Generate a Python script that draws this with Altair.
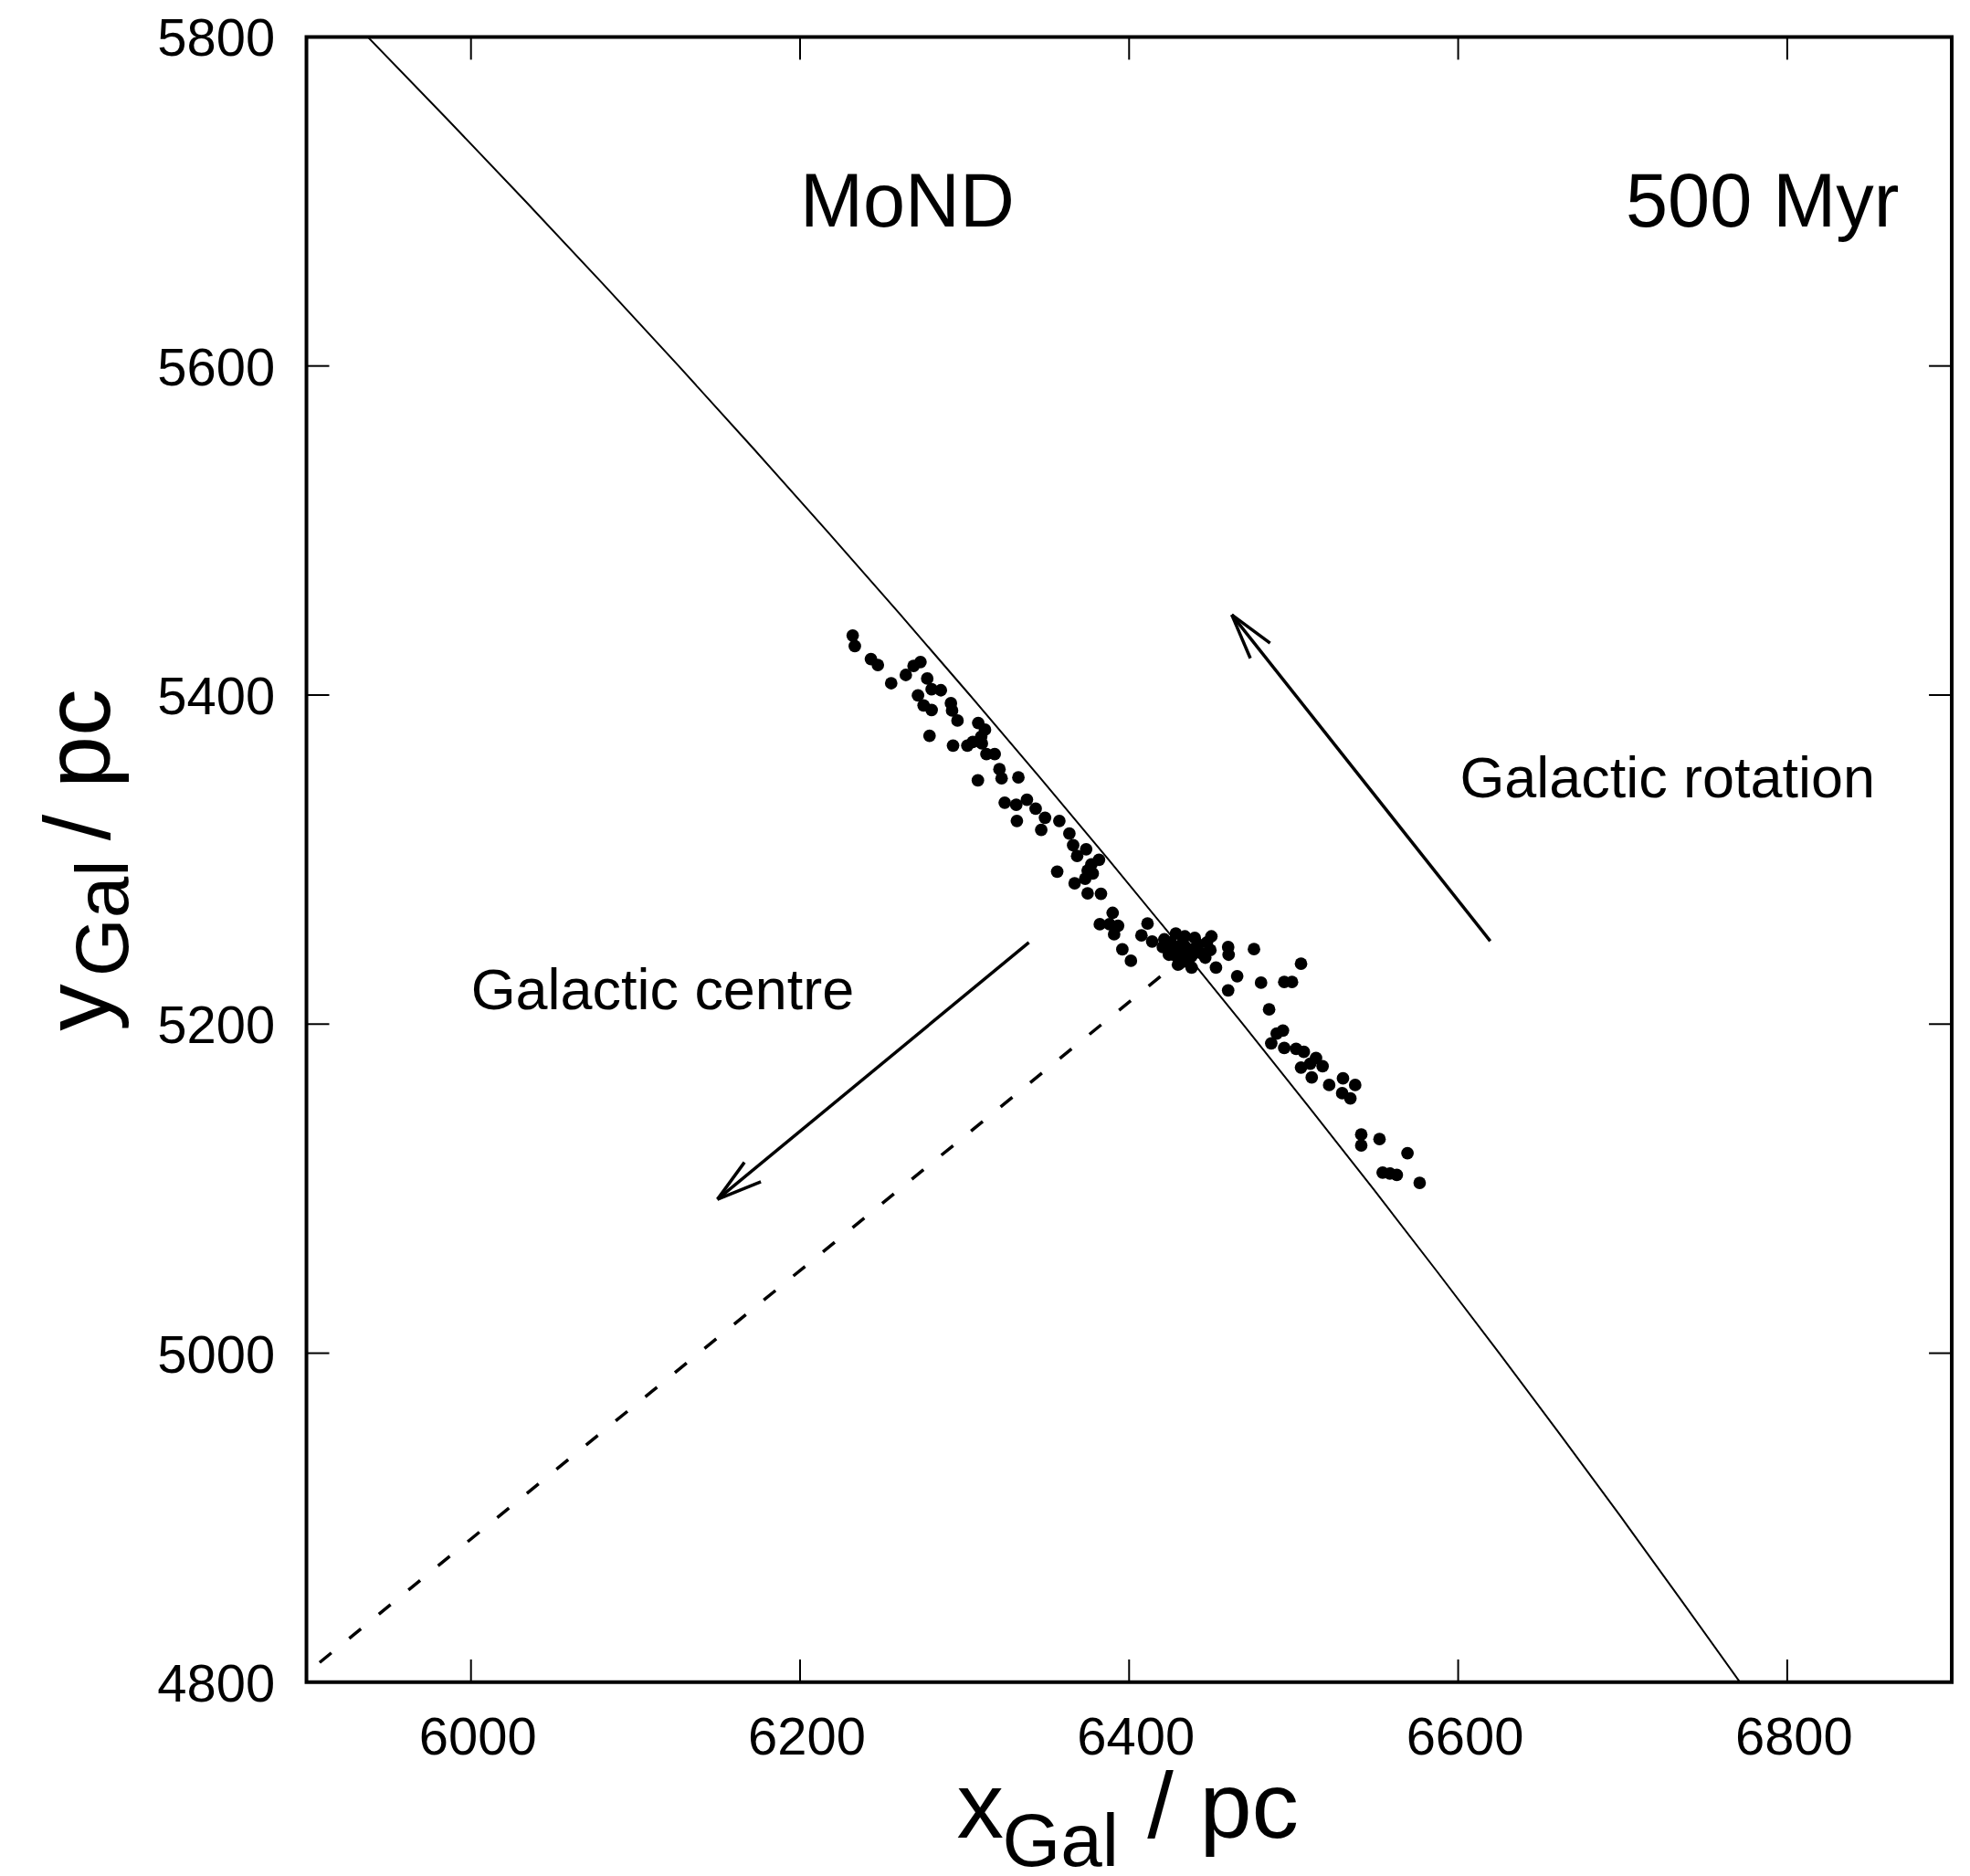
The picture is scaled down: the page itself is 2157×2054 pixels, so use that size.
import altair as alt
import pandas as pd

FONT = "Liberation Sans"
W = 1804
H = 1804

# axis tick values
x_ticks = [6000, 6200, 6400, 6600, 6800]
y_ticks = [4800, 5000, 5200, 5400, 5600, 5800]

# simulated particles
dot_x = [6232.0, 6233.3, 6243.1, 6247.3, 6255.4, 6264.3, 6269.0, 6273.2, 6277.3, 6280.0,
         6285.6, 6271.7, 6275.1, 6280.0, 6291.7, 6292.4, 6295.7, 6278.7, 6293.0, 6301.7,
         6305.0, 6310.5, 6308.3, 6312.4, 6310.1, 6313.3, 6318.3, 6321.2, 6322.5, 6332.7,
         6308.1, 6324.4, 6331.4, 6337.9, 6343.2, 6331.8, 6348.9, 6346.6, 6357.6, 6363.7,
         6366.0, 6373.9, 6368.4, 6381.7, 6377.1, 6374.8, 6377.9, 6373.3, 6356.3, 6366.9,
         6374.8, 6382.9, 6390.0, 6382.2, 6388.1, 6393.3, 6390.9, 6411.2, 6407.5, 6395.9,
         6401.1, 6414.0, 6421.4,
         6428.4, 6433.9, 6439.9, 6450.0, 6449.4, 6446.3, 6452.8, 6438.0, 6429.7, 6424.2,
         6420.5, 6428.8, 6434.3, 6439.9, 6426.9, 6432.5, 6438.0, 6443.6, 6436.1, 6430.6,
         6432.5, 6441.7, 6425.1, 6447.3, 6425.1, 6430.6,
         6460.2, 6460.5, 6475.9, 6504.5, 6465.7, 6460.2, 6480.2, 6494.3, 6499.0, 6485.1,
         6493.5, 6489.7, 6486.4, 6494.3, 6501.5, 6506.2, 6513.6, 6517.6, 6504.5, 6511.0,
         6510.1, 6521.6, 6530.0, 6537.4, 6529.5, 6534.5, 6541.1, 6541.1, 6552.2, 6569.2,
         6554.1, 6558.5, 6562.7, 6576.6]
dot_y = [5436.2, 5429.7, 5421.9, 5418.3, 5407.2, 5412.2, 5417.7, 5420.1, 5410.0, 5403.5,
         5402.9, 5399.8, 5393.7, 5390.9, 5395.0, 5390.6, 5384.5, 5375.2, 5369.3, 5369.3,
         5371.5, 5370.6, 5383.0, 5378.9, 5374.7, 5364.1, 5364.1, 5354.9, 5349.4, 5349.9,
         5348.1, 5334.6, 5333.3, 5336.4, 5330.9, 5323.5, 5325.4, 5318.0, 5323.5, 5315.8,
         5308.7, 5306.3, 5302.2, 5299.9, 5297.1, 5293.4, 5291.5, 5288.4, 5292.7, 5285.6,
         5279.5, 5279.2, 5267.6, 5260.7, 5260.7, 5259.8, 5254.6, 5261.1, 5253.9, 5245.4,
         5238.5, 5250.2, 5251.5,
         5255.1, 5253.3, 5252.4, 5253.3, 5245.0, 5240.4, 5234.3, 5234.3, 5236.1, 5242.2,
         5246.8, 5246.8, 5246.8, 5245.9, 5242.2, 5241.3, 5241.3, 5243.2, 5237.6, 5240.4,
         5249.6, 5248.7, 5246.8, 5249.6, 5249.6, 5236.7,
         5246.8, 5242.2, 5245.6, 5236.7, 5229.1, 5220.5, 5225.2, 5225.6, 5225.6, 5208.9,
         5196.1, 5194.2, 5188.3, 5185.5, 5185.0, 5183.1, 5179.4, 5174.4, 5173.6, 5167.6,
         5176.0, 5163.0, 5167.0, 5163.0, 5158.0, 5154.8, 5132.9, 5126.3, 5130.1, 5121.6,
         5109.8, 5109.2, 5108.3, 5103.5]

# orbit (solid curve) points
orbit_x = [5937.2, 5985.6, 6033.2, 6080.1, 6126.2, 6171.5, 6216.1, 6260.0, 6303.2, 6345.7,
           6387.5, 6428.6, 6469.2, 6509.0, 6548.3, 6586.9, 6625.0, 6662.4, 6699.3, 6735.5,
           6771.3]
orbit_y = [5800, 5750, 5700, 5650, 5600, 5550, 5500, 5450, 5400, 5350,
           5300, 5250, 5200, 5150, 5100, 5050, 5000, 4950, 4900, 4850,
           4800]

# dashed radial line (towards Galactic centre)
radial_x = [5908, 6435]
radial_y = [4812, 5242]

# arrow segments (shaft + two head strokes each)
seg_x1 = [6619.5, 6462.4, 6462.4, 6339.1, 6149.8, 6149.8]
seg_y1 = [5250.5, 5448.8, 5448.8, 5249.6, 5093.5, 5093.5]
seg_x2 = [6462.4, 6485.7, 6473.7, 6149.8, 6166.2, 6176.2]
seg_y2 = [5448.8, 5431.6, 5422.3, 5093.5, 5116.0, 5104.2]

# annotations
ann_text = ["MoND", "500 Myr", "Galactic rotation", "Galactic centre"]
ann_x = [6200, 6868, 6601, 6000]
ann_y = [5685, 5685, 5338, 5209]
ann_size = [83, 83, 63, 63]
ann_align = ["left", "right", "left", "left"]

xscale = alt.Scale(domain=[5900, 6900], nice=False, zero=False)
yscale = alt.Scale(domain=[4800, 5800], nice=False, zero=False)

xaxis = alt.Axis(values=x_ticks, ticks=False, tickSize=0, domain=False, grid=False,
                 labelFont=FONT, labelFontSize=58, labelColor="black", labelPadding=33,
                 labelOffset=7, labelFlush=False, labelOverlap=False, title=None, format="d")
yaxis = alt.Axis(values=y_ticks, ticks=False, tickSize=0, domain=False, grid=False,
                 labelFont=FONT, labelFontSize=58, labelColor="black", labelPadding=35,
                 labelOffset=3.5, labelOverlap=False, title=None, format="d")


def X(field):
    return alt.X(field, type="quantitative", scale=xscale, axis=xaxis)


def Y(field):
    return alt.Y(field, type="quantitative", scale=yscale, axis=yaxis)


orbit_df = pd.DataFrame({"x": orbit_x, "y": orbit_y, "i": list(range(len(orbit_x)))})
orbit = alt.Chart(orbit_df).mark_line(color="black", strokeWidth=2, clip=True).encode(
    x=X("x"), y=Y("y"), order="i:Q")

radial_df = pd.DataFrame({"x": radial_x, "y": radial_y, "i": list(range(len(radial_x)))})
radial = alt.Chart(radial_df).mark_line(color="black", strokeWidth=3.5,
                                        strokeDash=[16.6, 25.3], clip=True).encode(
    x=X("x"), y=Y("y"), order="i:Q")

seg_df = pd.DataFrame({"x1": seg_x1, "y1": seg_y1, "x2": seg_x2, "y2": seg_y2})
arrows = alt.Chart(seg_df).mark_rule(color="black", strokeWidth=3.5).encode(
    x=X("x1"), y=Y("y1"), x2="x2:Q", y2="y2:Q")

dots_df = pd.DataFrame({"x": dot_x, "y": dot_y})
dots = alt.Chart(dots_df).mark_circle(color="black", opacity=1, size=190).encode(
    x=X("x"), y=Y("y"))

xt_df = pd.DataFrame({"v": x_ticks})
yt_df = pd.DataFrame({"v": y_ticks})
tick_style = dict(color="black", strokeWidth=2)
tick_b = alt.Chart(xt_df).mark_rule(**tick_style).encode(
    x=X("v"), y=alt.value(H), y2=alt.value(H - 25))
tick_t = alt.Chart(xt_df).mark_rule(**tick_style).encode(
    x=X("v"), y=alt.value(0), y2=alt.value(25))
tick_l = alt.Chart(yt_df).mark_rule(**tick_style).encode(
    y=Y("v"), x=alt.value(0), x2=alt.value(25))
tick_r = alt.Chart(yt_df).mark_rule(**tick_style).encode(
    y=Y("v"), x=alt.value(W), x2=alt.value(W - 25))

layers = [orbit, radial, arrows, dots, tick_b, tick_t, tick_l, tick_r]

for t, ax, ay, s, al in zip(ann_text, ann_x, ann_y, ann_size, ann_align):
    df = pd.DataFrame({"t": [t], "x": [ax], "y": [ay]})
    layers.append(
        alt.Chart(df).mark_text(font=FONT, fontSize=s, align=al, baseline="alphabetic",
                                color="black").encode(x=X("x"), y=Y("y"), text="t:N"))

# axis titles with subscripts
title_parts = [
    # text, x(px), y(px), size, angle
    ("x", 713, 1974, 103, 0),
    ("Gal", 763, 2005, 82, 0),
    ("/ pc", 922, 1974, 103, 0),
    ("y", -216, 1090, 103, 270),
    ("Gal", -196, 1030, 82, 270),
    ("/ pc", -216, 881, 103, 270),
]
for t, px, py, s, ang in title_parts:
    df = pd.DataFrame({"t": [t]})
    layers.append(
        alt.Chart(df).mark_text(font=FONT, fontSize=s, align="left", baseline="alphabetic",
                                angle=ang, color="black").encode(
            x=alt.value(px), y=alt.value(py), text="t:N"))

chart = alt.layer(*layers).properties(
    width=W, height=H,
    autosize=alt.AutoSizeParams(type="none"),
    padding={"left": 328, "top": 31, "right": 12, "bottom": 211},
    background="white",
).configure_view(stroke="black", strokeWidth=4)

chart.save("out.html", embed_options={"renderer": "svg", "actions": False})
